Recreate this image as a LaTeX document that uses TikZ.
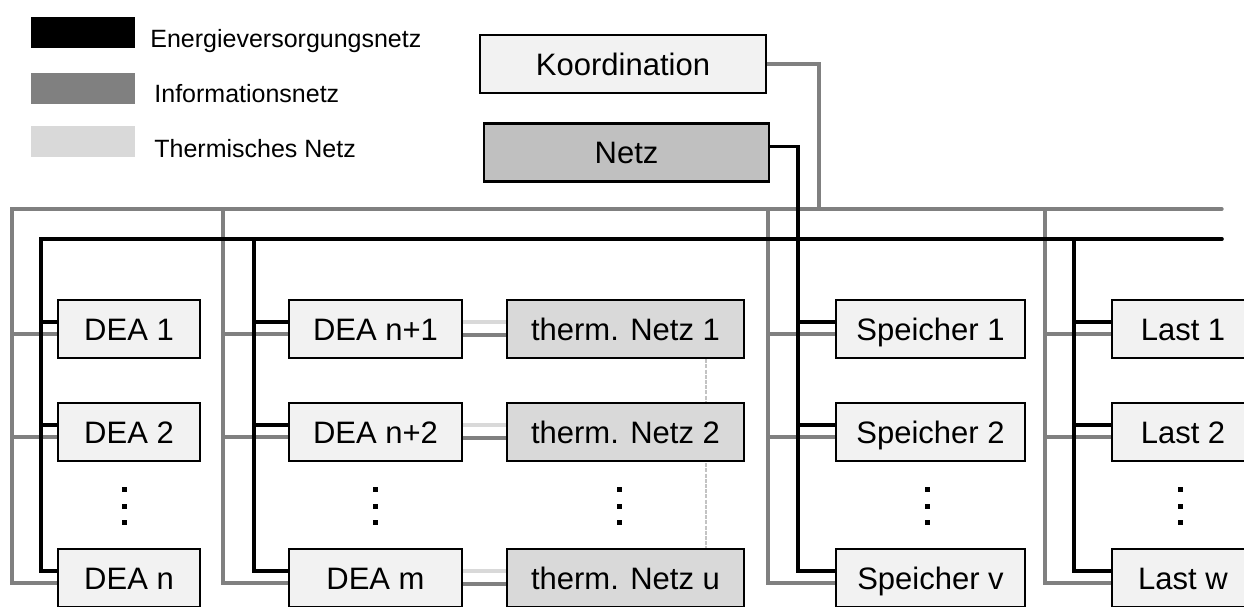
\documentclass[tikz,border=0pt]{standalone}
\usepackage{fontspec}
\setmainfont{Liberation Sans}
\usetikzlibrary{calc,backgrounds}
\definecolor{boxfill}{HTML}{F2F2F2}
\definecolor{netzfill}{HTML}{C0C0C0}
\definecolor{thermfill}{HTML}{D9D9D9}
\definecolor{infogray}{HTML}{808080}
\definecolor{thermline}{HTML}{D9D9D9}
\begin{document}
\begin{tikzpicture}[x=0.5pt,y=-0.5pt,
  unit/.style={draw=black, line width=1.15pt, fill=boxfill, minimum width=#1,
    minimum height=29pt, inner sep=0pt, text height=11.1pt, text depth=0pt,
    font=\fontsize{15.5}{18}\selectfont},
  swatch/.style={inner sep=0pt, minimum width=52pt, minimum height=15.5pt},
  legendtext/.style={anchor=base west, inner sep=0pt, font=\fontsize{12.5}{15}\selectfont},
  energy/.style={line width=1.8pt, black, line cap=round, line join=miter},
  info/.style={line width=1.7pt, infogray, line cap=round, line join=miter},
  therm/.style={line width=1.7pt, thermline},
  thermdash/.style={line width=1.3pt, thermline!90!black, dash pattern=on 2pt off 0.6pt},
  dotmark/.style={fill=black}
]
\clip (0,0) rectangle (1244,606);

% legend
\node[swatch, fill=black]     (swE) at (83,32.5)  {};
\node[swatch, fill=infogray]  (swI) at (83,88.5)  {};
\node[swatch, fill=thermfill] (swT) at (83,141.5) {};
\node[legendtext] (lgE) at (150,47)  {Energieversorgungsnetz};
\node[legendtext] (lgI) at (154,102) {Informationsnetz};
\node[legendtext] (lgT) at (154,157) {Thermisches Netz};

% upper units
\node[unit=143pt] (koord) at (623,64) {Koordination};
\node[unit=142.5pt, fill=netzfill] (netz) at (626.5,152.5) {Netz};

% DEA columns
\node[unit=71pt] (dea1) at (129,329) {DEA 1};
\node[unit=71pt] (dea2) at (129,432) {DEA 2};
\node[unit=71pt] (dean) at (129,578) {DEA n};
\node[unit=86.5pt] (deanp1) at (375.5,329) {DEA n+1};
\node[unit=86.5pt] (deanp2) at (375.5,432) {DEA n+2};
\node[unit=86.5pt] (deam)   at (375.5,578) {DEA m};

% thermal networks
\node[unit=118.5pt, fill=thermfill] (th1) at (625.5,329) {therm. Netz 1};
\node[unit=118.5pt, fill=thermfill] (th2) at (625.5,432) {therm. Netz 2};
\node[unit=118.5pt, fill=thermfill] (thu) at (625.5,578) {therm. Netz u};

% storage and loads
\node[unit=94.5pt] (sp1) at (930.5,329) {Speicher 1};
\node[unit=94.5pt] (sp2) at (930.5,432) {Speicher 2};
\node[unit=94.5pt] (spv) at (930.5,578) {Speicher v};
\node[unit=71pt] (last1) at (1183,329) {Last 1};
\node[unit=71pt] (last2) at (1183,432) {Last 2};
\node[unit=71pt] (lastw) at (1183,578) {Last w};

% attachment points on the left side of each unit
\foreach \n in {dea1,dea2,dean,deanp1,deanp2,deam,sp1,sp2,spv,last1,last2,lastw}{
  \coordinate (\n-e) at ($(\n.north west)+(0,23)$);
  \coordinate (\n-i) at ($(\n.north west)+(0,35)$);
}
% attachment points between generators and thermal networks
\foreach \n in {deanp1,deanp2,deam}{
  \coordinate (\n-te) at ($(\n.north east)+(0,23)$);
  \coordinate (\n-ti) at ($(\n.north east)+(0,36)$);
}
\coordinate (netz-e) at ($(netz.north east)+(0,24)$);

% bus corners and column feeders
\coordinate (gL) at (12,209);   \coordinate (gR) at (1222,209);
\coordinate (g2) at (223,209);  \coordinate (g3) at (768,209);
\coordinate (g4) at (1045,209); \coordinate (gK) at (819,209);
\coordinate (bL) at (41,239);   \coordinate (bR) at (1222,239);
\coordinate (b2) at (254,239);  \coordinate (b3) at (798,239);
\coordinate (b4) at (1074,239);
\coordinate (tv) at (706,0);

\begin{scope}[on background layer]
% thermal coupling
\draw[thermdash] (tv |- th1.south) -- (tv |- thu.north);
\draw[therm] (deanp1-te) -- (deanp1-te -| th1.west);
\draw[therm] (deanp2-te) -- (deanp2-te -| th2.west);
\draw[therm] (deam-te)   -- (deam-te -| thu.west);

% information network
\draw[info] (gR) -- (gL) -- (gL |- dean-i) -- (dean-i);
\draw[info] (gL |- dea1-i) -- (dea1-i);
\draw[info] (gL |- dea2-i) -- (dea2-i);
\draw[info] (g2) -- (g2 |- deam-i) -- (deam-i);
\draw[info] (g2 |- deanp1-i) -- (deanp1-i);
\draw[info] (g2 |- deanp2-i) -- (deanp2-i);
\draw[info] (g3) -- (g3 |- spv-i) -- (spv-i);
\draw[info] (g3 |- sp1-i) -- (sp1-i);
\draw[info] (g3 |- sp2-i) -- (sp2-i);
\draw[info] (g4) -- (g4 |- lastw-i) -- (lastw-i);
\draw[info] (g4 |- last1-i) -- (last1-i);
\draw[info] (g4 |- last2-i) -- (last2-i);
\draw[info] (koord.east) -| (gK);
\draw[info] (deanp1-ti) -- (deanp1-ti -| th1.west);
\draw[info] (deanp2-ti) -- (deanp2-ti -| th2.west);
\draw[info] (deam-ti)   -- (deam-ti -| thu.west);

% energy supply network
\draw[energy] (bR) -- (bL) -- (bL |- dean-e) -- (dean-e);
\draw[energy] (bL |- dea1-e) -- (dea1-e);
\draw[energy] (bL |- dea2-e) -- (dea2-e);
\draw[energy] (b2) -- (b2 |- deam-e) -- (deam-e);
\draw[energy] (b2 |- deanp1-e) -- (deanp1-e);
\draw[energy] (b2 |- deanp2-e) -- (deanp2-e);
\draw[energy] (netz-e) -| (b3 |- spv-e) -- (spv-e);
\draw[energy] (b3 |- sp1-e) -- (sp1-e);
\draw[energy] (b3 |- sp2-e) -- (sp2-e);
\draw[energy] (b4) -- (b4 |- lastw-e) -- (lastw-e);
\draw[energy] (b4 |- last1-e) -- (last1-e);
\draw[energy] (b4 |- last2-e) -- (last2-e);
\end{scope}

% continuation dots
\foreach \x in {124,375,619,927,1180}{
  \foreach \y in {489,506,522}{
    \fill[dotmark] (\x-2.5,\y-2.5) rectangle (\x+2.5,\y+2.5);
  }
}
\end{tikzpicture}
\end{document}
